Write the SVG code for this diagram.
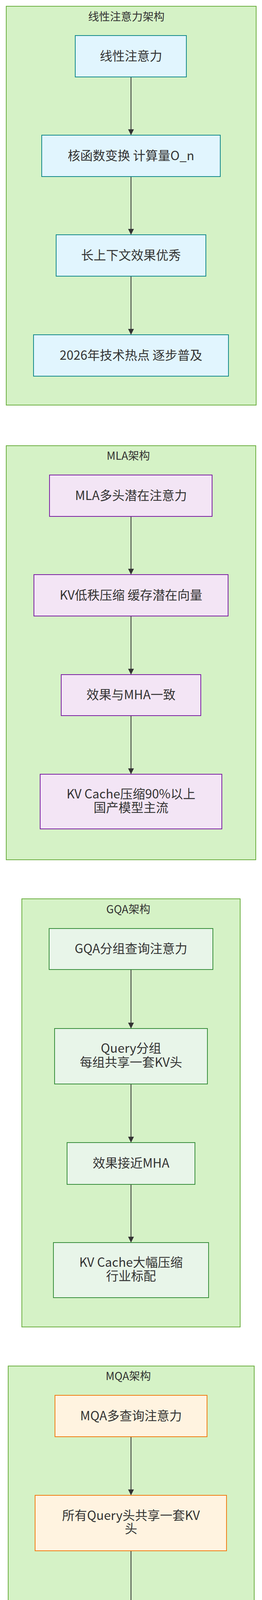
<svg xmlns="http://www.w3.org/2000/svg" width="672" height="5806" viewBox="0 0 672 5806">
<defs>
<marker id="arr" markerUnits="userSpaceOnUse" markerWidth="16" markerHeight="16" viewBox="0 0 16 16" refX="15" refY="8" orient="auto">
<path d="M0,0.5 L15,8 L0,15.5 Z" fill="#333333"/>
</marker>
<style>
text{font-family:"Noto Sans CJK SC","Noto Sans",sans-serif;fill:#333333;}
.cl{fill:#d5f2c6;stroke:#6daf42;stroke-width:2;}
.ct{font-size:28px;text-anchor:middle;}
.nt{font-size:32px;text-anchor:middle;}
.s1{fill:#e1f5fe;stroke:#13898c;stroke-width:2;}
.s2{fill:#f3e5f5;stroke:#7b1fa2;stroke-width:2;}
.s3{fill:#e8f5e9;stroke:#388e3c;stroke-width:2;}
.s4{fill:#fff3e0;stroke:#f07c12;stroke-width:2;}
.s5{fill:#e3f2fd;stroke:#1e6fbf;stroke-width:2;}
.ed{stroke:#333333;stroke-width:2;fill:none;}
.wm{font-size:24.5px;text-anchor:end;fill:#e2e2e2;stroke:#7a7a7a;stroke-width:0.6;}
</style>
</defs>

<g id="cluster-linear">
<rect class="cl" x="16" y="16" width="641" height="1021"/>
<text class="ct" x="324" y="53">线性注意力架构</text>
</g>
<g id="cluster-mla">
<rect class="cl" x="16" y="1141" width="640" height="1060"/>
<text class="ct" x="329" y="1177">MLA架构</text>
</g>
<g id="cluster-gqa">
<rect class="cl" x="56" y="2301" width="560" height="1096"/>
<text class="ct" x="329" y="2338">GQA架构</text>
</g>
<g id="cluster-mqa">
<rect class="cl" x="21" y="3497" width="631" height="1094"/>
<text class="ct" x="329" y="3533">MQA架构</text>
</g>
<g id="cluster-mha">
<rect class="cl" x="21" y="4693" width="630" height="1096"/>
<text class="ct" x="329.5" y="4729">MHA架构</text>
</g>

<g id="edges">
<line class="ed" x1="336" y1="197" x2="336" y2="346" marker-end="url(#arr)"/>
<line class="ed" x1="336" y1="452" x2="336" y2="601" marker-end="url(#arr)"/>
<line class="ed" x1="336" y1="707" x2="336" y2="857" marker-end="url(#arr)"/>

<line class="ed" x1="336" y1="1322" x2="336" y2="1471" marker-end="url(#arr)"/>
<line class="ed" x1="336" y1="1577" x2="336" y2="1727" marker-end="url(#arr)"/>
<line class="ed" x1="336" y1="1832" x2="336" y2="1982" marker-end="url(#arr)"/>

<line class="ed" x1="336" y1="2482" x2="336" y2="2633" marker-end="url(#arr)"/>
<line class="ed" x1="336" y1="2775" x2="336" y2="2925" marker-end="url(#arr)"/>
<line class="ed" x1="336" y1="3032" x2="336" y2="3181" marker-end="url(#arr)"/>

<line class="ed" x1="336" y1="3678" x2="336" y2="3828" marker-end="url(#arr)"/>
<line class="ed" x1="336" y1="3970" x2="336" y2="4120" marker-end="url(#arr)"/>
<line class="ed" x1="336" y1="4226" x2="336" y2="4377" marker-end="url(#arr)"/>

<line class="ed" x1="336" y1="4873" x2="336" y2="5023" marker-end="url(#arr)"/>
<line class="ed" x1="336" y1="5165" x2="336" y2="5315" marker-end="url(#arr)"/>
<line class="ed" x1="336" y1="5421" x2="336" y2="5573" marker-end="url(#arr)"/>
</g>

<g id="L1"><rect class="s1" x="193" y="91" width="285" height="106"/><text class="nt" x="336" y="155">线性注意力</text></g>
<g id="L2"><rect class="s1" x="107" y="346" width="458" height="106"/><text class="nt" x="336" y="410">核函数变换 计算量O_n</text></g>
<g id="L3"><rect class="s1" x="144" y="601" width="384" height="106"/><text class="nt" x="336" y="665">长上下文效果优秀</text></g>
<g id="L4"><rect class="s1" x="86" y="857" width="500" height="106"/><text class="nt" x="336" y="921">2026年技术热点 逐步普及</text></g>

<g id="M1"><rect class="s2" x="127" y="1216" width="417" height="106"/><text class="nt" x="336" y="1280">MLA多头潜在注意力</text></g>
<g id="M2"><rect class="s2" x="87" y="1471" width="498" height="106"/><text class="nt" x="336" y="1535">KV低秩压缩 缓存潜在向量</text></g>
<g id="M3"><rect class="s2" x="157" y="1727" width="358" height="105"/><text class="nt" x="336" y="1790">效果与MHA一致</text></g>
<g id="M4"><rect class="s2" x="103" y="1982" width="466" height="140"/><text class="nt" x="336" y="2044">KV Cache压缩90%以上<tspan x="336" dy="35">国产模型主流</tspan></text></g>

<g id="G1"><rect class="s3" x="126" y="2377" width="420" height="105"/><text class="nt" x="336" y="2440">GQA分组查询注意力</text></g>
<g id="G2"><rect class="s3" x="140" y="2633" width="392" height="142"/><text class="nt" x="336" y="2695">Query分组<tspan x="336" dy="36">每组共享一套KV头</tspan></text></g>
<g id="G3"><rect class="s3" x="172" y="2925" width="328" height="107"/><text class="nt" x="336" y="2989">效果接近MHA</text></g>
<g id="G4"><rect class="s3" x="137" y="3181" width="398" height="141"/><text class="nt" x="336" y="3243">KV Cache大幅压缩<tspan x="336" dy="35">行业标配</tspan></text></g>

<g id="Q1"><rect class="s4" x="141" y="3572" width="390" height="106"/><text class="nt" x="336" y="3636">MQA多查询注意力</text></g>
<g id="Q2"><rect class="s4" x="90" y="3828" width="491" height="142"/><text class="nt" x="336" y="3891">所有Query头共享一套KV<tspan x="336" dy="34">头</tspan></text></g>
<g id="Q3"><rect class="s4" x="136" y="4120" width="399" height="106"/><text class="nt" x="336" y="4184">KV Cache占用最小</text></g>
<g id="Q4"><rect class="s4" x="175" y="4377" width="321" height="141"/><text class="nt" x="336" y="4439">效果损失较大<tspan x="336" dy="35">通用能力下降</tspan></text></g>

<g id="H1"><rect class="s5" x="123" y="4767" width="425" height="106"/><text class="nt" x="336" y="4831">传统MHA多头注意力</text></g>
<g id="H2"><rect class="s5" x="91" y="5023" width="490" height="142"/><text class="nt" x="336" y="5086">每个Query头对应独立KV<tspan x="336" dy="34">头</tspan></text></g>
<g id="H3"><rect class="s5" x="209" y="5315" width="254" height="106"/><text class="nt" x="336" y="5379">效果最好</text></g>
<g id="H4"><rect class="s5" x="137" y="5573" width="398" height="140"/><text class="nt" x="336" y="5634">KV Cache占用极大<tspan x="336" dy="36">长上下文性能差</tspan></text></g>

<text class="wm" x="646" y="5778">掘金技术社区 @ 殷紫川</text>
</svg>
